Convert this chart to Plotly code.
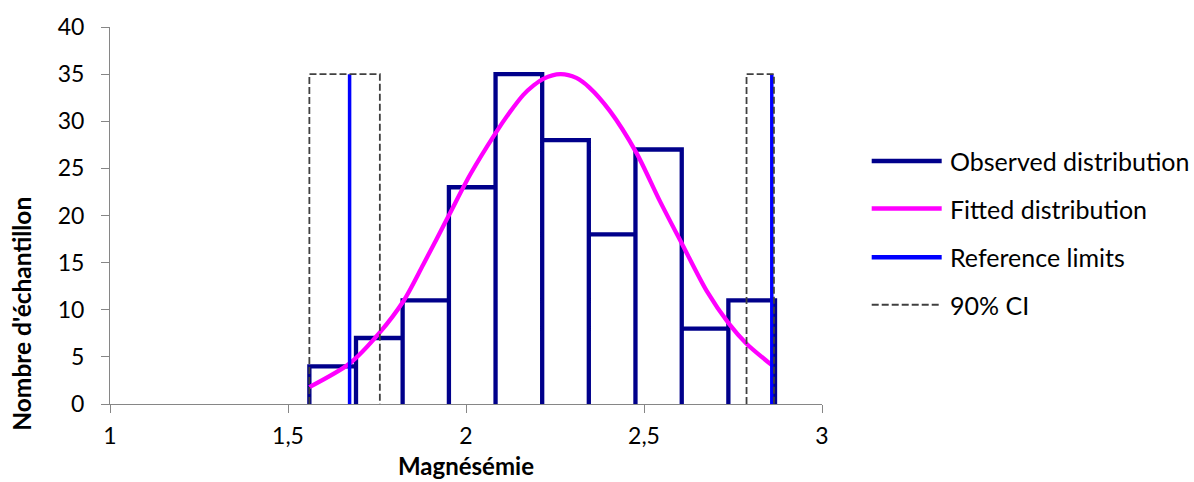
import plotly.graph_objects as go

# Histogram of the observed values (class edges and counts)
bin_edges = [1.560, 1.691, 1.822, 1.952, 2.083, 2.214, 2.345, 2.476, 2.606, 2.737, 2.868]
counts = [4, 7, 11, 23, 35, 28, 18, 27, 8, 11]

# Fitted normal curve, sampled points
fit_x = [1.560, 1.673, 1.758, 1.824, 1.880, 1.953, 2.011, 2.084, 2.120, 2.161, 2.190, 2.217,
         2.265, 2.310, 2.346, 2.404, 2.478, 2.545, 2.608, 2.676, 2.739, 2.788, 2.860]
fit_y = [1.8, 4.3, 7.6, 10.9, 14.8, 20.1, 24.3, 28.8, 30.8, 32.8, 33.8, 34.5,
         35.0, 34.6, 33.6, 31.1, 26.7, 21.5, 16.9, 12.0, 8.5, 6.4, 4.1]

# Reference limits and their 90% confidence intervals
ref_limits = [1.673, 2.859]
ci_low = [1.560, 1.758]
ci_high = [2.788, 2.865]
limit_height = 35

x_ticks = [1, 1.5, 2, 2.5, 3]
x_ticklabels = ["1", "1,5", "2", "2,5", "3"]
y_ticks = [0, 5, 10, 15, 20, 25, 30, 35, 40]

series_names = ["Observed distribution", "Fitted distribution", "Reference limits", "90% CI"]
x_title = "Magnésémie"
y_title = "Nombre d'échantillon"

NAVY = "#00008B"
MAGENTA = "#FF00FF"
BLUE = "#0000FF"
DASH = "#404040"
FONT = "Lato"

# Outline of the histogram: every bar drawn with full-height sides
hx, hy = [], []
for i, c in enumerate(counts):
    hx += [bin_edges[i], bin_edges[i], bin_edges[i + 1], bin_edges[i + 1]]
    hy += [0, c, c, 0]

fig = go.Figure()
fig.add_trace(go.Scatter(x=hx, y=hy, mode="lines", name=series_names[0],
                         line=dict(color=NAVY, width=4.3), showlegend=False))
fig.add_trace(go.Scatter(x=fit_x, y=fit_y, mode="lines", name=series_names[1],
                         line=dict(color=MAGENTA, width=4.3, shape="spline", smoothing=0.8),
                         showlegend=False))
rx, ry = [], []
for v in ref_limits:
    rx += [v, v, None]
    ry += [0, limit_height, None]
fig.add_trace(go.Scatter(x=rx, y=ry, mode="lines", name=series_names[2],
                         line=dict(color=BLUE, width=3.5), showlegend=False))
cx, cy = [], []
for lo, hi in [ci_low, ci_high]:
    cx += [lo, lo, hi, hi, None]
    cy += [0, limit_height, limit_height, 0, None]
fig.add_trace(go.Scatter(x=cx, y=cy, mode="lines", name=series_names[3],
                         line=dict(color=DASH, width=1.8, dash="7px,3px"), showlegend=False))

# Legend drawn at the right of the plot
legend_styles = [
    dict(color=NAVY, width=4.5),
    dict(color=MAGENTA, width=4.5),
    dict(color=BLUE, width=4.5),
    dict(color=DASH, width=1.8, dash="7px,3px"),
]
legend_y = [0.6447, 0.5184, 0.3895, 0.2632]
for name, style, yy in zip(series_names, legend_styles, legend_y):
    fig.add_shape(type="line", xref="paper", yref="paper",
                  x0=1.0698, x1=1.1681, y0=yy, y1=yy, line=style)
    fig.add_annotation(xref="paper", yref="paper", x=1.1765, y=yy, text=name,
                       showarrow=False, xanchor="left", yanchor="middle",
                       font=dict(family=FONT, size=25, color="#000"))

# Axis titles
fig.add_annotation(xref="paper", yref="paper", x=0.5, y=-0.162, text="<b>%s</b>" % x_title,
                   showarrow=False, xanchor="center", yanchor="middle",
                   font=dict(family=FONT, size=24, color="#000"))
fig.add_annotation(xref="paper", yref="paper", x=-0.1236, y=0.2395, text="<b>%s</b>" % y_title,
                   showarrow=False, xanchor="center", yanchor="middle", textangle=-90,
                   font=dict(family=FONT, size=24.5, color="#000"))

axis_line = "#868686"
fig.update_layout(
    width=1194, height=482,
    margin=dict(l=110, r=372, t=24, b=78),
    plot_bgcolor="white", paper_bgcolor="white",
    font=dict(family=FONT, size=23, color="#000"),
    xaxis=dict(range=[1, 3], tickvals=x_ticks, ticktext=x_ticklabels,
               showgrid=False, zeroline=False, showline=True, linecolor=axis_line,
               linewidth=1, ticks="outside", ticklen=8, tickcolor=axis_line,
               ticklabelstandoff=3),
    yaxis=dict(range=[0, 40], tickvals=y_ticks, showgrid=False, zeroline=False,
               showline=True, linecolor=axis_line, linewidth=1, ticks="outside",
               ticklen=8, tickcolor=axis_line, ticklabelstandoff=12),
)

fig.write_html("out.html")
